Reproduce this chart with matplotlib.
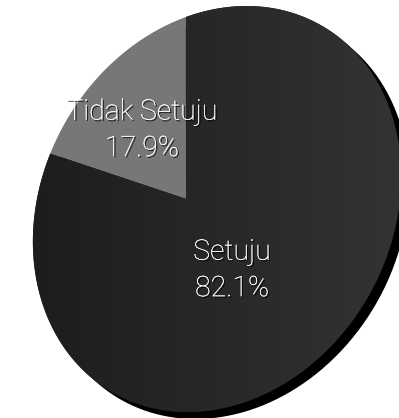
import numpy as np
import matplotlib
matplotlib.use('Agg')
import matplotlib.pyplot as plt
import matplotlib.transforms as mtransforms
import matplotlib.patheffects as pe
from matplotlib.path import Path
from matplotlib.patches import Circle
from matplotlib.colors import LinearSegmentedColormap

labels = ['Tidak Setuju', 'Setuju']
shares = [17.9, 82.1]
colors = ['#777777', '#252525']

# the pie face as it sits in the picture (pixel units, y up)
face_center = np.array([217.0, 209.0])
face_shape = np.array([[33900.0, 6000.0], [6000.0, 41209.0]])
apex = np.array([186.0, 219.0])

# unit disc -> ellipse, plus a perspective "boost" so the apex is off centre
w, V = np.linalg.eigh(face_shape)
L = V @ np.diag(np.sqrt(w)) @ V.T
p = np.linalg.inv(L) @ (apex - face_center)
r = np.hypot(*p)
u = p / r
v = np.array([-u[1], u[0]])
g = 1 / np.sqrt(1 - r * r)


def to_face(q, phi):
    c, s = np.cos(phi), np.sin(phi)
    q = q @ np.array([[c, s], [-s, c]])
    a = q @ u
    b = q @ v
    wt = g * (1 + r * a)
    out = np.outer(g * (a + r) / wt, u) + np.outer(b / wt, v)
    return face_center + out @ L.T


# turn the disc so 12 o'clock stays straight above the apex
phis = np.linspace(0, 2 * np.pi, 7200, endpoint=False)
dirs = np.array([to_face(np.array([[0.0, 0.5]]), f)[0] - apex for f in phis])
phi = phis[np.argmin(np.abs(np.arctan2(dirs[:, 0], dirs[:, 1])))]


class Perspective(mtransforms.Transform):
    input_dims = output_dims = 2
    is_separable = False
    has_inverse = False

    def transform_non_affine(self, values):
        return to_face(np.asarray(values, float).reshape(-1, 2), phi)

    def transform_path_non_affine(self, path):
        pts = [seg(np.linspace(0, 1, 24)) for seg, _ in path.iter_bezier()]
        return Path(self.transform_non_affine(np.concatenate(pts)), closed=True)


persp = Perspective()

fig = plt.figure(figsize=(3.99, 4.18), dpi=100)
ax = fig.add_axes([0, 0, 1, 1])

wedges, texts, autotexts = ax.pie(shares, colors=colors, startangle=90,
                                  counterclock=True, autopct='%1.1f%%',
                                  pctdistance=0.5)

# drop shadow
shadow = Circle((0, 0), 1, facecolor='black', edgecolor='none', zorder=0.5)
shadow.set_transform(persp + mtransforms.Affine2D().translate(8, -7) + ax.transData)
ax.add_patch(shadow)

for wd in wedges:
    wd.set_transform(persp + ax.transData)
    wd.set_edgecolor('none')
    wd.set_zorder(1)

# light falling from the right on the dark slice
grad = np.tile(np.linspace(0, 1, 256), (8, 1))
cmap = LinearSegmentedColormap.from_list('shade', ['#1b1b1b', '#333333'])
im = ax.imshow(grad, extent=(0, 399, 0, 418), cmap=cmap, aspect='auto', zorder=1.5)
im.set_clip_path(wedges[1])

label_dist = [0.5, 0.45]
for t, wd, lab, val, d in zip(autotexts, wedges, labels, shares, label_dist):
    mid = np.deg2rad((wd.theta1 + wd.theta2) / 2)
    t.set_position((d * np.cos(mid), d * np.sin(mid)))
    t.set_text(f'{lab}\n{val:.1f}%')
    t.set_transform(persp + ax.transData)
    t.set_color('white')
    t.set_fontsize(20.5)
    t.set_family('Roboto')
    t.set_fontweight('light')
    t.set_linespacing(1.45)
    t.set_zorder(3)
    t.set_path_effects([pe.withSimplePatchShadow(offset=(1, -1), shadow_rgbFace='black', alpha=0.9),
                        pe.Normal()])

ax.set_xlim(0, 399)
ax.set_ylim(0, 418)
ax.set_aspect('auto')
ax.axis('off')

fig.savefig('out.png', dpi=100)
